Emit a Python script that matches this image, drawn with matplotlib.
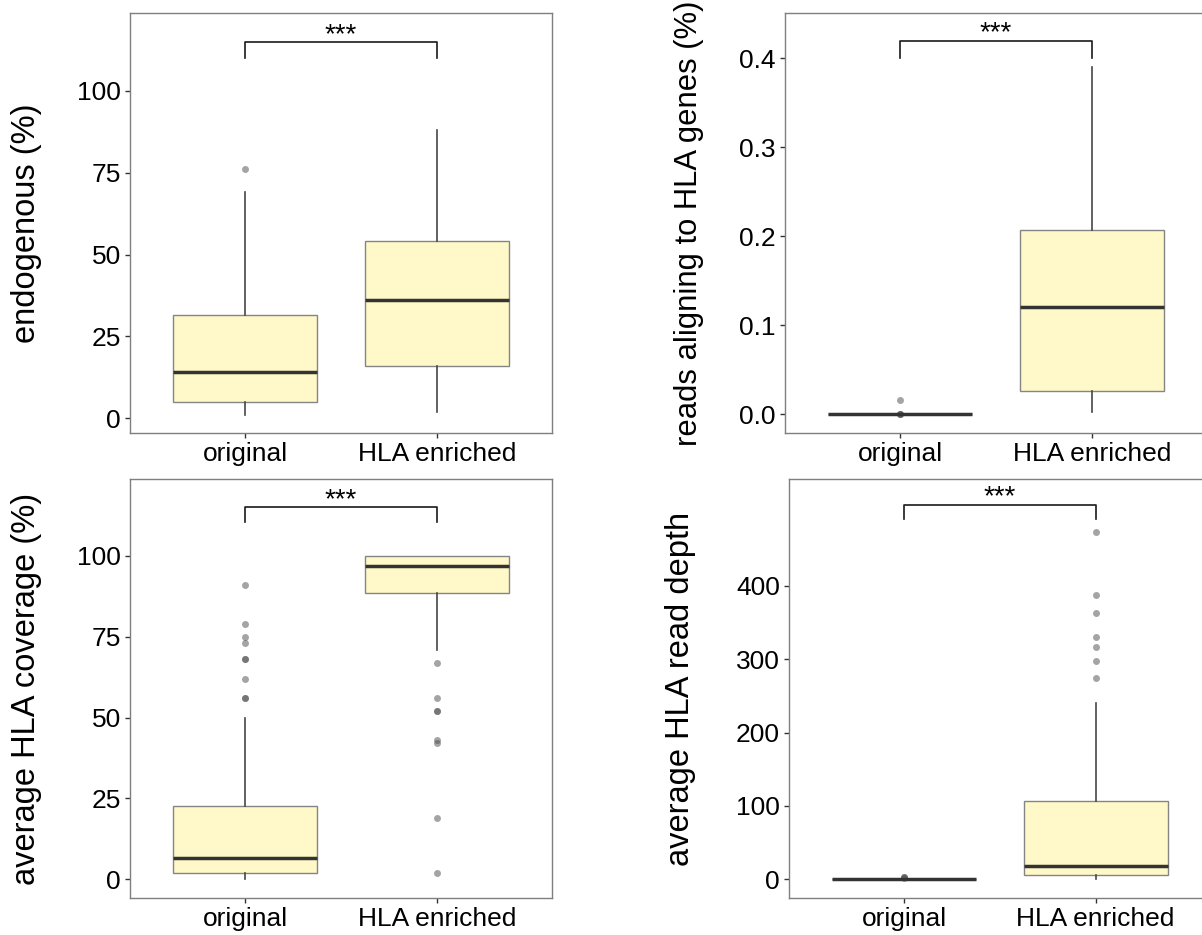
import matplotlib
matplotlib.use("Agg")
import matplotlib.pyplot as plt
from matplotlib.ticker import FormatStrFormatter

plt.rcParams['font.family'] = ['Liberation Sans', 'DejaVu Sans']

groups = ['original', 'HLA enriched']

# box stats: (whislo, q1, med, q3, whishi), outliers
endo_stats = [(1, 5, 14, 31.5, 69), (2, 16, 36, 54, 88)]
endo_fliers = [[76], []]

reads_stats = [(0, 0, 0, 0, 0), (0.003, 0.026, 0.121, 0.207, 0.39)]
reads_fliers = [[0.016, 0, 0, 0], []]

cov_stats = [(0, 2, 6.5, 22.5, 50), (71, 88.5, 97, 100, 100)]
cov_fliers = [[91, 79, 75, 73, 68, 68, 62, 56, 56],
              [67, 56, 52, 52, 43, 42, 19, 2]]

depth_stats = [(0, 0, 0, 0, 0), (0.5, 5.4, 18, 107, 241)]
depth_fliers = [[1.5, 3, 3], [473, 388, 363, 330, 317, 297, 274]]

ylabels = ['endogenous (%)', 'reads aligning to HLA genes (%)',
           'average HLA coverage (%)', 'average HLA read depth']
yticks = [[0, 25, 50, 75, 100], [0, 0.1, 0.2, 0.3, 0.4],
          [0, 25, 50, 75, 100], [0, 100, 200, 300, 400]]
ylims = [(-4.6, 123.8), (-0.0213, 0.451), (-5.9, 123.8), (-25.9, 546)]
bracket_top = [115, 0.42, 115.2, 511]
bracket_end = [110, 0.40, 110.4, 492]
signif = '***'

# axes placement in figure fractions
positions = [[0.1082, 0.5366, 0.3508, 0.4495],
             [0.6531, 0.5366, 0.3508, 0.4495],
             [0.1082, 0.0393, 0.3508, 0.4485],
             [0.6564, 0.0393, 0.3508, 0.4485]]
label_x = [-0.209, -0.192, -0.209, -0.2205]
# the long label on the top-right panel is kept a bit smaller so it fits
label_size = [23.5, 22.3, 23.5, 23.5]

fig = plt.figure(figsize=(12.02, 9.35), dpi=100)

panels = [(endo_stats, endo_fliers), (reads_stats, reads_fliers),
          (cov_stats, cov_fliers), (depth_stats, depth_fliers)]

for i, (stats, fliers) in enumerate(panels):
    ax = fig.add_axes(positions[i])
    bxp_stats = []
    for (lo, q1, med, q3, hi), fl in zip(stats, fliers):
        bxp_stats.append(dict(whislo=lo, q1=q1, med=med, q3=q3, whishi=hi,
                              fliers=fl))
    ax.bxp(bxp_stats, positions=[1, 2], widths=0.75, patch_artist=True,
           showcaps=False,
           boxprops=dict(facecolor='#fff8c8', edgecolor='#858585', linewidth=1.0),
           whiskerprops=dict(color='#474747', linewidth=1.2),
           medianprops=dict(color='#333333', linewidth=2.5, solid_capstyle='butt'),
           flierprops=dict(marker='o', markersize=5, markerfacecolor='#4a4a4a',
                           markeredgecolor='none', alpha=0.5))

    # significance bracket
    ax.plot([1, 1, 2, 2], [bracket_end[i], bracket_top[i], bracket_top[i], bracket_end[i]],
            color='#1a1a1a', linewidth=1.2)
    ax.annotate(signif, xy=(1.5, bracket_top[i]), xytext=(0, 0),
                textcoords='offset points', ha='center', va='baseline',
                fontsize=20, color='black')

    ax.set_xlim(0.4, 2.6)
    ax.set_ylim(*ylims[i])
    ax.set_xticks([1, 2])
    ax.set_xticklabels(groups)
    ax.set_yticks(yticks[i])
    if i == 1:
        ax.yaxis.set_major_formatter(FormatStrFormatter('%.1f'))
    ax.tick_params(labelsize=19, length=3.5, width=1.0, color='#333333',
                   labelcolor='black', pad=3)
    for sp in ax.spines.values():
        sp.set_color('#7f7f7f')
        sp.set_linewidth(1.0)
    ax.set_ylabel(ylabels[i], fontsize=label_size[i])
    ax.yaxis.set_label_coords(label_x[i], 0.5)

fig.savefig('out.png', dpi=100)
